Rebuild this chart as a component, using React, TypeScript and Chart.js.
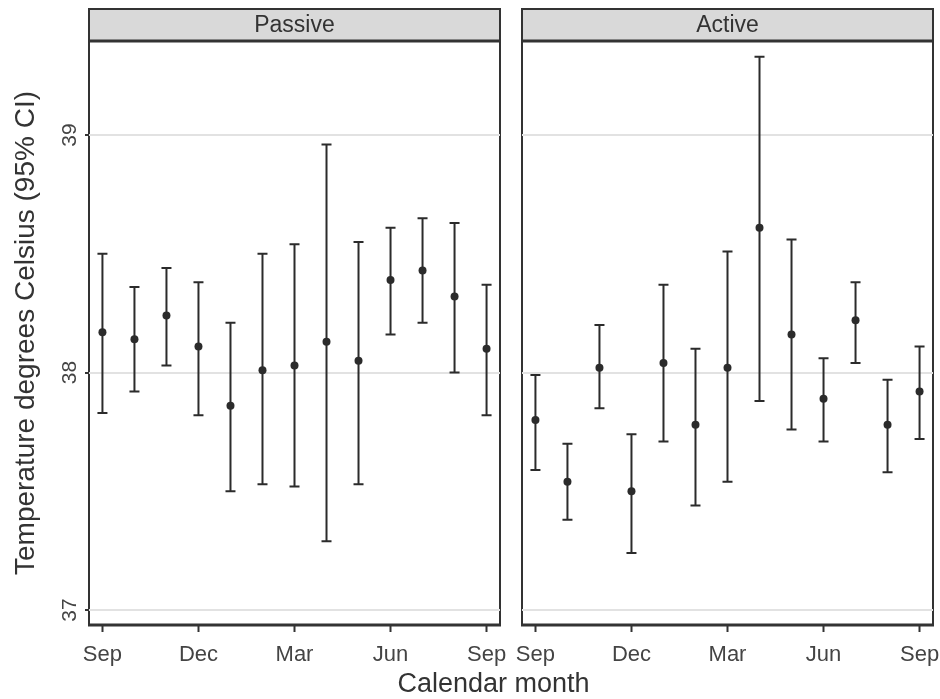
import React, { useEffect, useRef } from 'react';
import { Chart, registerables } from 'chart.js';

Chart.register(...registerables);

const monthLabels = ['Sep', 'Oct', 'Nov', 'Dec', 'Jan', 'Feb', 'Mar', 'Apr', 'May', 'Jun', 'Jul', 'Aug', 'Sep'];
const tickMonths = [0, 3, 6, 9, 12];
const yTicks = [37, 38, 39];

const passiveMean = [38.17, 38.14, 38.24, 38.11, 37.86, 38.01, 38.03, 38.13, 38.05, 38.39, 38.43, 38.32, 38.10];
const passiveLower = [37.83, 37.92, 38.03, 37.82, 37.50, 37.53, 37.52, 37.29, 37.53, 38.16, 38.21, 38.00, 37.82];
const passiveUpper = [38.50, 38.36, 38.44, 38.38, 38.21, 38.50, 38.54, 38.96, 38.55, 38.61, 38.65, 38.63, 38.37];

const activeMean = [37.80, 37.54, 38.02, 37.50, 38.04, 37.78, 38.02, 38.61, 38.16, 37.89, 38.22, 37.78, 37.92];
const activeLower = [37.59, 37.38, 37.85, 37.24, 37.71, 37.44, 37.54, 37.88, 37.76, 37.71, 38.04, 37.58, 37.72];
const activeUpper = [37.99, 37.70, 38.20, 37.74, 38.37, 38.10, 38.51, 39.33, 38.56, 38.06, 38.38, 37.97, 38.11];

const FONT = '"Liberation Sans", Arial, sans-serif';
const INK = '#2b2b2b';

const stripPlugin = {
  id: 'facetStrip',
  beforeDraw(chart: any, _args: any, opts: any) {
    const { ctx, chartArea: a } = chart;
    ctx.save();
    ctx.fillStyle = '#d9d9d9';
    ctx.fillRect(a.left, opts.top, a.right - a.left, a.top - opts.top);
    ctx.strokeStyle = '#333333';
    ctx.lineWidth = 2;
    ctx.strokeRect(a.left, opts.top, a.right - a.left, a.top - opts.top);
    ctx.strokeRect(a.left, a.top, a.right - a.left, a.bottom - a.top);
    ctx.lineWidth = 3;
    ctx.beginPath();
    ctx.moveTo(a.left - 1, a.bottom);
    ctx.lineTo(a.right + 1, a.bottom);
    ctx.moveTo(a.left - 1, a.top);
    ctx.lineTo(a.right + 1, a.top);
    ctx.stroke();
    ctx.fillStyle = '#333333';
    ctx.font = '23px ' + FONT;
    ctx.textAlign = 'center';
    ctx.textBaseline = 'middle';
    ctx.fillText(opts.text, (a.left + a.right) / 2, (opts.top + a.top) / 2 + 1);
    ctx.restore();
  },
};

const errorBarPlugin = {
  id: 'errorBars',
  beforeDatasetsDraw(chart: any, _args: any, opts: any) {
    const { ctx } = chart;
    const xs = chart.scales.x;
    const ys = chart.scales.y;
    ctx.save();
    ctx.strokeStyle = INK;
    ctx.lineWidth = 2;
    const lower: number[] = opts.lower;
    const upper: number[] = opts.upper;
    lower.forEach((lo, i) => {
      const px = xs.getPixelForValue(i);
      const pl = ys.getPixelForValue(lo);
      const pu = ys.getPixelForValue(upper[i]);
      ctx.beginPath();
      ctx.moveTo(px, pl);
      ctx.lineTo(px, pu);
      ctx.moveTo(px - 5, pl);
      ctx.lineTo(px + 5, pl);
      ctx.moveTo(px - 5, pu);
      ctx.lineTo(px + 5, pu);
      ctx.stroke();
    });
    ctx.restore();
  },
};

type FacetProps = {
  title: string;
  mean: number[];
  lower: number[];
  upper: number[];
  showY: boolean;
  left: number;
  width: number;
  yWidth: number;
  padRight: number;
};

function Facet({ title, mean, lower, upper, showY, left, width, yWidth, padRight }: FacetProps) {
  const ref = useRef<HTMLCanvasElement>(null);
  useEffect(() => {
    if (!ref.current) return;
    const chart = new Chart(ref.current, {
      type: 'scatter',
      data: {
        datasets: [
          {
            data: mean.map((m, i) => ({ x: i, y: m })),
            pointRadius: 4,
            pointBackgroundColor: INK,
            pointBorderWidth: 0,
            showLine: false,
          },
        ],
      },
      plugins: [stripPlugin, errorBarPlugin],
      options: {
        responsive: false,
        animation: false,
        layout: { padding: { top: 41, right: padRight, bottom: 0, left: 0 } },
        plugins: {
          legend: { display: false },
          tooltip: { enabled: false },
          facetStrip: { text: title, top: 9 },
          errorBars: { lower, upper },
        } as any,
        scales: {
          x: {
            type: 'linear',
            min: -0.42,
            max: 12.42,
            afterBuildTicks: (s: any) => {
              s.ticks = tickMonths.map((v) => ({ value: v }));
            },
            ticks: {
              callback: (v: any) => monthLabels[Number(v)],
              font: { family: FONT, size: 22 },
              color: '#444444',
              padding: 10,
              maxRotation: 0,
              autoSkip: false,
            },
            grid: { drawOnChartArea: false, tickLength: 7, tickColor: '#333333', tickWidth: 2 },
            border: { display: false },
            afterFit: (s: any) => {
              s.height = 74;
              s.paddingLeft = 0;
              s.paddingRight = 0;
            },
          },
          y: {
            type: 'linear',
            min: 36.937,
            max: 39.396,
            afterBuildTicks: (s: any) => {
              s.ticks = yTicks.map((v) => ({ value: v }));
            },
            ticks: {
              display: showY,
              minRotation: 90,
              maxRotation: 90,
              crossAlign: 'center',
              padding: 3,
              font: { family: FONT, size: 21 },
              color: '#444444',
              callback: (v: any) => String(v),
            },
            grid: {
              color: '#e2e2e2',
              lineWidth: 2,
              drawTicks: showY,
              tickLength: 4,
              tickColor: '#333333',
              tickWidth: 2,
            },
            border: { display: false },
            title: {
              display: showY,
              text: 'Temperature degrees Celsius (95% CI)',
              font: { family: FONT, size: 28 },
              color: '#333333',
              padding: { top: 9, bottom: 0 },
            },
            afterFit: (s: any) => {
              s.width = yWidth;
              s.paddingTop = 0;
              s.paddingBottom = 0;
            },
          },
        },
      } as any,
    });
    return () => chart.destroy();
  }, []);
  return (
    <canvas
      ref={ref}
      width={width}
      height={699}
      style={{ position: 'absolute', left, top: 0, width, height: 699, display: 'block' }}
    />
  );
}

export default function App() {
  return (
    <div style={{ position: 'absolute', left: 0, top: 0, width: 940, height: 699, background: '#ffffff', overflow: 'hidden' }}>
      <Facet title="Passive" mean={passiveMean} lower={passiveLower} upper={passiveUpper} showY={true} left={0} width={520} yWidth={89} padRight={20} />
      <Facet title="Active" mean={activeMean} lower={activeLower} upper={activeUpper} showY={false} left={505} width={435} yWidth={17} padRight={7} />
      <div
        style={{
          position: 'absolute',
          left: 193,
          width: 601,
          top: 670,
          textAlign: 'center',
          fontFamily: FONT,
          fontSize: 27,
          lineHeight: '27px',
          color: '#333333',
          whiteSpace: 'nowrap',
        }}
      >
        Calendar month
      </div>
    </div>
  );
}
